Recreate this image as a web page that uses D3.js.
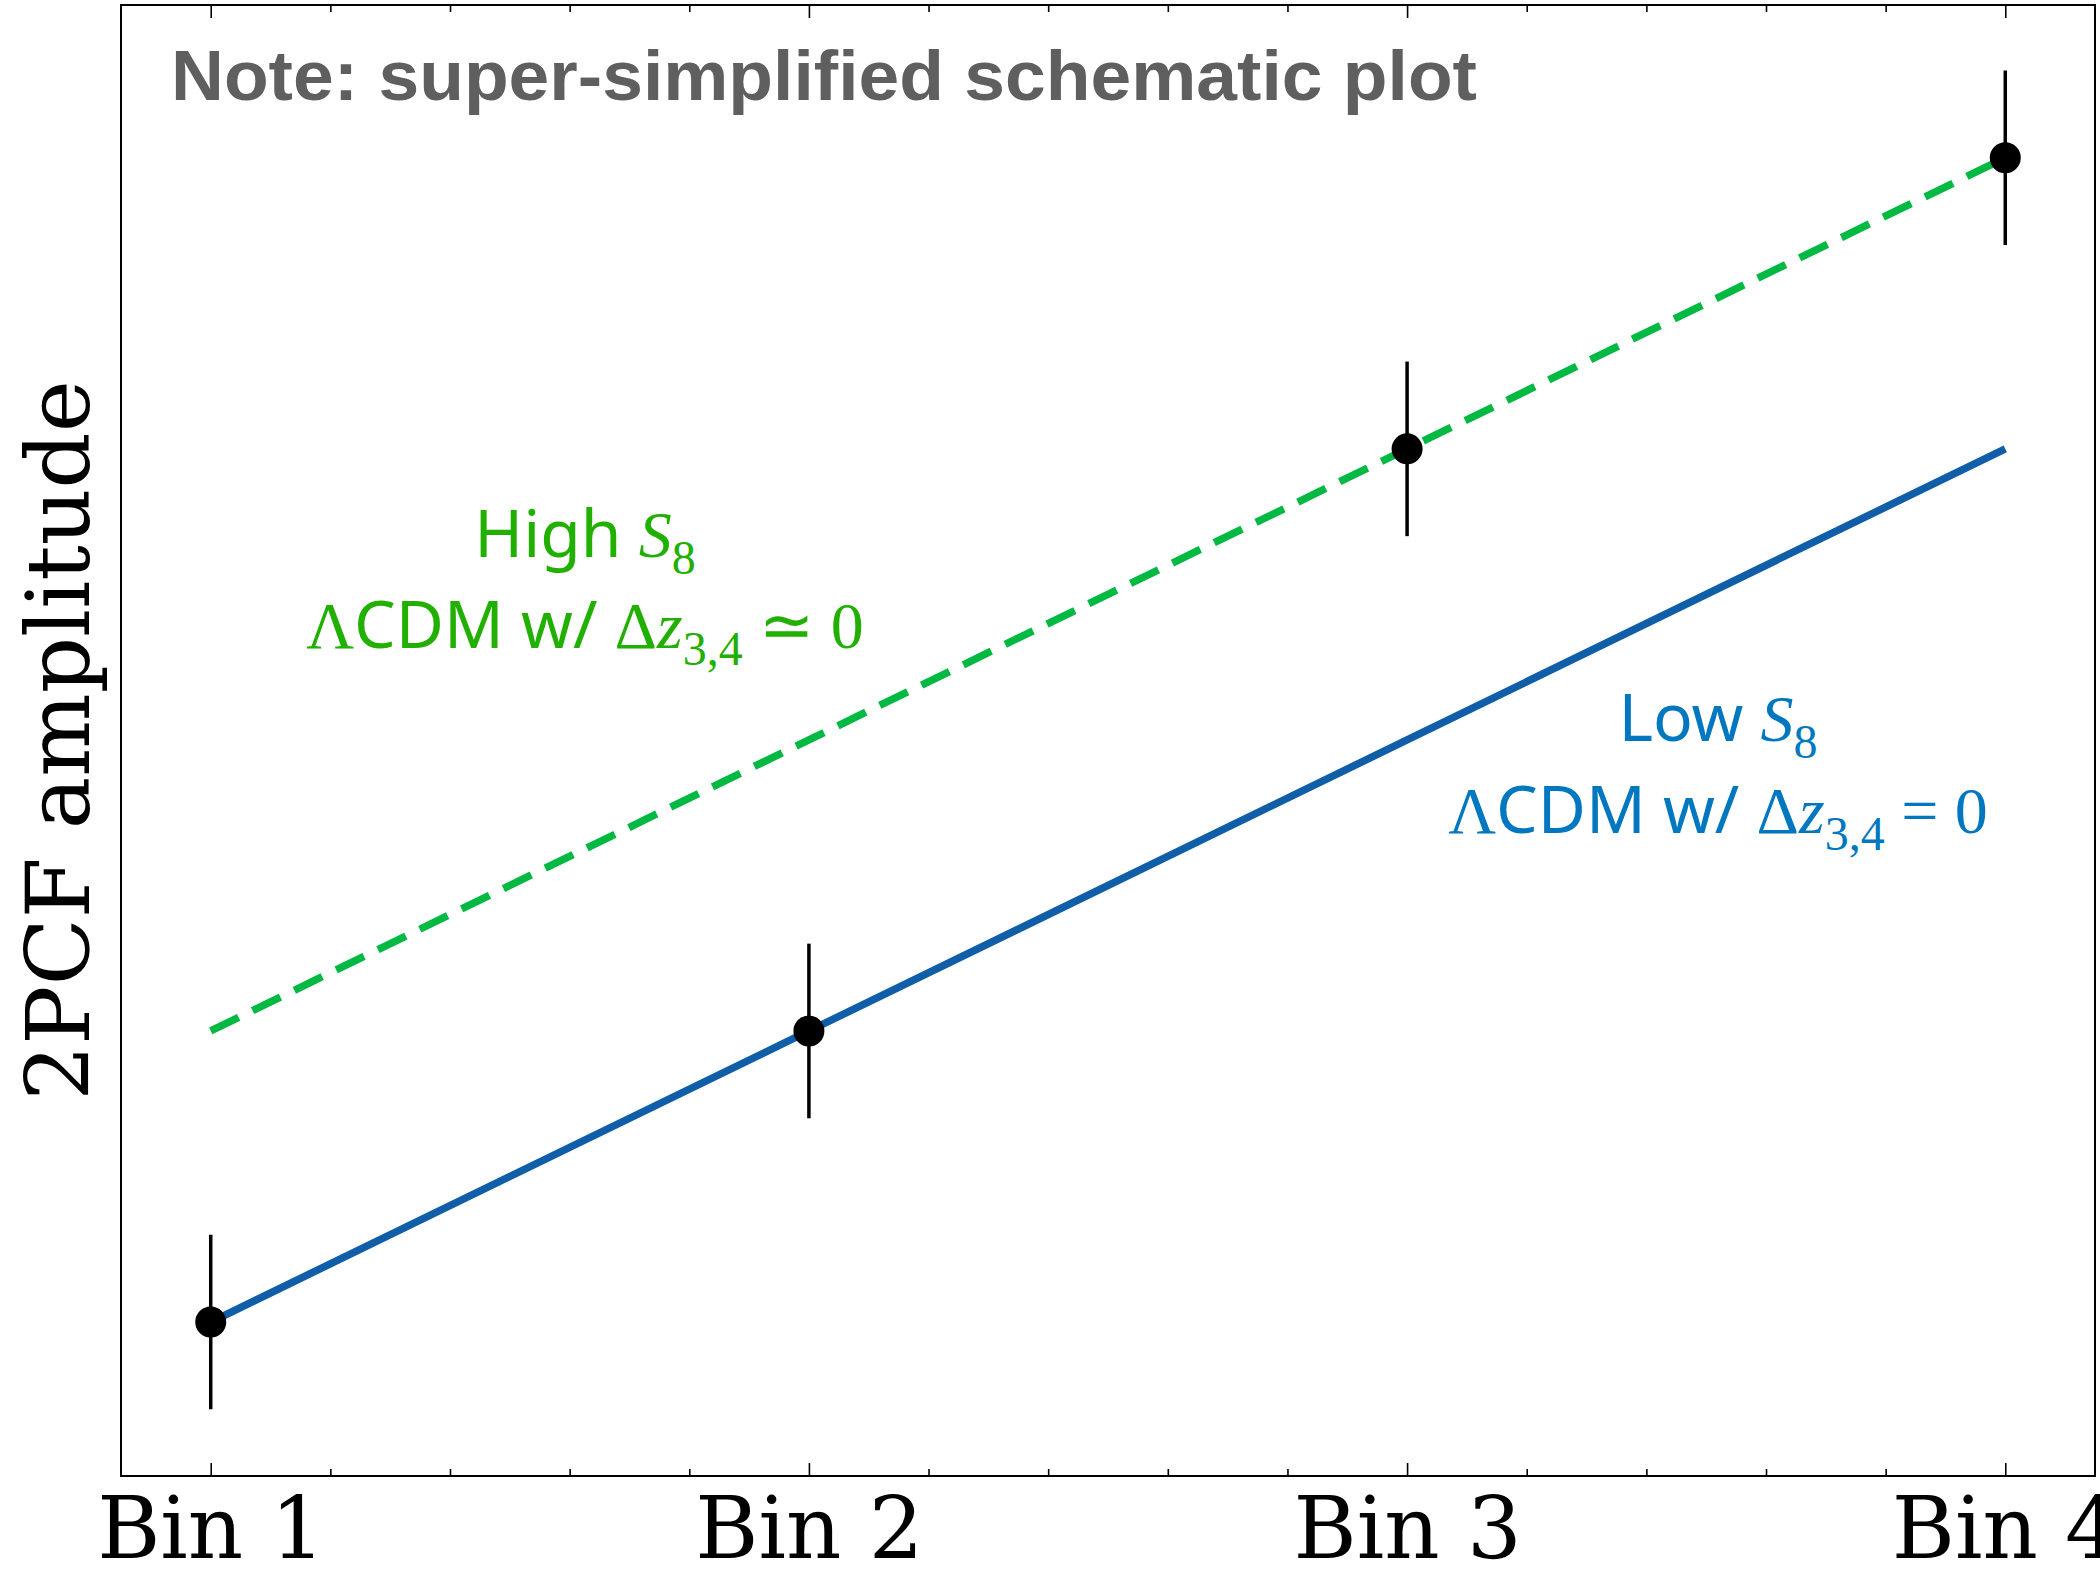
<!DOCTYPE html>
<html>
<head>
<meta charset="utf-8">
<script src="https://cdn.jsdelivr.net/npm/d3@7"></script>
<style>
  html, body { margin: 0; padding: 0; background: #ffffff; }
  svg { display: block; }
</style>
</head>
<body>
<script>
// ---- data ----
const binLabels = ["Bin 1", "Bin 2", "Bin 3", "Bin 4"];
const binPositions = [1, 2, 3, 4];
const lowS8Model = [1, 2, 3, 4];      // low S8 LCDM prediction
const highS8Model = [2, 3, 4, 5];     // high S8 LCDM prediction
const measured = [1, 2, 4, 5];        // schematic measurements
const measuredErr = [0.3, 0.3, 0.3, 0.3];
const xLimits = [0.85, 4.15];
const yLimits = [0.471, 5.525];

// ---- layout ----
const W = 2100, H = 1570;
const plot = { left: 121, right: 2095, top: 5, bottom: 1476 };

const serif = "'DejaVu Serif', serif";
const mathSerif = "'Liberation Serif', 'Times New Roman', serif";
const sans = "'Noto Sans', 'Open Sans', sans-serif";

const svg = d3.select("body").append("svg")
  .attr("width", W).attr("height", H)
  .attr("viewBox", `0 0 ${W} ${H}`);

svg.append("rect").attr("width", W).attr("height", H).attr("fill", "#ffffff");

const x = d3.scaleLinear().domain(xLimits).range([plot.left, plot.right]);
const y = d3.scaleLinear().domain(yLimits).range([plot.bottom, plot.top]);

// minor tick positions between the bins
const minorTicks = d3.range(1, 4.0001, 0.2).filter(v => Math.abs(v - Math.round(v)) > 1e-6);

// ---- axes (inward ticks, mirrored on top) ----
const bottomMajor = d3.axisBottom(x).tickValues(binPositions)
  .tickFormat((d, i) => binLabels[i]).tickSizeInner(-13).tickSizeOuter(0).tickPadding(21);
const bottomMinor = d3.axisBottom(x).tickValues(minorTicks)
  .tickFormat("").tickSizeInner(-7).tickSizeOuter(0);
const topMajor = d3.axisTop(x).tickValues(binPositions)
  .tickFormat("").tickSizeInner(-13).tickSizeOuter(0);
const topMinor = d3.axisTop(x).tickValues(minorTicks)
  .tickFormat("").tickSizeInner(-7).tickSizeOuter(0);

function styleAxis(g) {
  g.select(".domain").remove();
  g.selectAll(".tick line").attr("stroke", "#000").attr("stroke-width", 1.6);
}

svg.append("g").attr("transform", `translate(0,${plot.bottom})`).call(bottomMinor).call(styleAxis);
svg.append("g").attr("transform", `translate(0,${plot.top})`).call(topMinor).call(styleAxis);
svg.append("g").attr("transform", `translate(0,${plot.top})`).call(topMajor).call(styleAxis);
const xAxisG = svg.append("g").attr("transform", `translate(0,${plot.bottom})`).call(bottomMajor).call(styleAxis);
xAxisG.selectAll(".tick text")
  .attr("font-family", serif).attr("font-size", 86).attr("fill", "#000");

// frame
svg.append("rect")
  .attr("x", plot.left).attr("y", plot.top)
  .attr("width", plot.right - plot.left).attr("height", plot.bottom - plot.top)
  .attr("fill", "none").attr("stroke", "#000").attr("stroke-width", 2);

// y label
svg.append("text")
  .attr("transform", `translate(89,${(plot.top + plot.bottom) / 2}) rotate(-90)`)
  .attr("text-anchor", "middle")
  .attr("font-family", serif).attr("font-size", 88).attr("fill", "#000")
  .text("2PCF amplitude");

// ---- model lines ----
const line = d3.line().x(d => x(d[0])).y(d => y(d[1]));

svg.append("path")
  .datum(binPositions.map((b, i) => [b, lowS8Model[i]]))
  .attr("d", line)
  .attr("fill", "none").attr("stroke", "#105ea8").attr("stroke-width", 7.5);

svg.append("path")
  .datum(binPositions.map((b, i) => [b, highS8Model[i]]))
  .attr("d", line)
  .attr("fill", "none").attr("stroke", "#00b942").attr("stroke-width", 7.5)
  .attr("stroke-dasharray", "31 15.5");

// ---- measurements with error bars ----
const pts = binPositions.map((b, i) => ({ b, v: measured[i], e: measuredErr[i] }));

svg.append("g").selectAll("line").data(pts).join("line")
  .attr("x1", d => x(d.b)).attr("x2", d => x(d.b))
  .attr("y1", d => y(d.v - d.e)).attr("y2", d => y(d.v + d.e))
  .attr("stroke", "#000").attr("stroke-width", 3.5);

svg.append("g").selectAll("circle").data(pts).join("circle")
  .attr("cx", d => x(d.b)).attr("cy", d => y(d.v))
  .attr("r", 15.5).attr("fill", "#000");

// ---- annotations ----
function mathLabel(cx, baseline, color, parts) {
  const t = svg.append("text")
    .attr("x", cx).attr("y", baseline)
    .attr("text-anchor", "middle").attr("fill", color)
    .attr("font-size", 66);
  parts.forEach(p => {
    const ts = t.append("tspan").attr("font-family", p.f).text(p.t);
    if (p.it) ts.attr("font-style", "italic");
    if (p.size) ts.attr("font-size", p.size);
    if (p.dy) ts.attr("dy", p.dy);
  });
  return t;
}

const greenText = "#22b000";
const blueText = "#0077be";

mathLabel(585, 557, greenText, [
  { t: "High ", f: sans },
  { t: "S", f: mathSerif, it: true },
  { t: "8", f: mathSerif, size: 48, dy: 17 }
]);
mathLabel(585, 648, greenText, [
  { t: "Λ", f: mathSerif },
  { t: "CDM w/ ", f: sans },
  { t: "Δ", f: mathSerif },
  { t: "z", f: mathSerif, it: true },
  { t: "3,4", f: mathSerif, size: 48, dy: 17 },
  { t: " ≃ 0", f: mathSerif, dy: -17 }
]);

mathLabel(1718, 741, blueText, [
  { t: "Low ", f: sans },
  { t: "S", f: mathSerif, it: true },
  { t: "8", f: mathSerif, size: 48, dy: 17 }
]);
mathLabel(1718, 833, blueText, [
  { t: "Λ", f: mathSerif },
  { t: "CDM w/ ", f: sans },
  { t: "Δ", f: mathSerif },
  { t: "z", f: mathSerif, it: true },
  { t: "3,4", f: mathSerif, size: 48, dy: 17 },
  { t: " = 0", f: mathSerif, dy: -17 }
]);

// ---- note ----
svg.append("text")
  .attr("x", 171).attr("y", 100)
  .attr("font-family", "'Liberation Sans', Arial, sans-serif")
  .attr("font-weight", "bold").attr("font-size", 70)
  .attr("fill", "#5f5f5f")
  .attr("textLength", 1306).attr("lengthAdjust", "spacingAndGlyphs")
  .text("Note: super-simplified schematic plot");
</script>
</body>
</html>
